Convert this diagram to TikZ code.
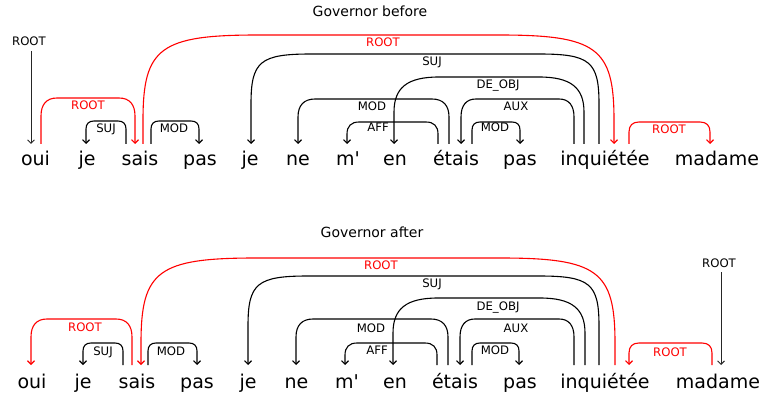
\documentclass[tikz,border=0pt]{standalone}
\usepackage{fontspec}
\setmainfont{DejaVu Sans}
\usetikzlibrary{arrows.meta}
\tikzset{
  word/.style={anchor=base, inner sep=0pt, font=\fontsize{19}{19}\selectfont},
  lab/.style={anchor=base, inner sep=0pt, font=\fontsize{11.7}{12}\selectfont},
  rlab/.style={lab, text=red},
  ttl/.style={anchor=base, inner sep=0pt, font=\fontsize{14}{14}\selectfont},
  dep/.style={line width=1.1pt, -{Straight Barb[length=3.5pt,width=7pt]}},
  rdep/.style={dep, draw=red},
  rootdep/.style={line width=0.9pt, draw=black!85, -{Straight Barb[length=3.5pt,width=7pt]}},
}
% #1 name, #2 x start, #3 x end, #4 y top, #5 y bottom, #6 dx, #7 dy, #8 control factor, #9 style
\newcommand{\deparc}[9]{%
  \coordinate (#1s) at (#2,#5);
  \coordinate (#1e) at (#3,#5);
  \pgfmathsetmacro\sg{(#3>#2)?1:-1}
  \draw[#9] (#1s) -- (#2,{#4+#7})
    .. controls (#2,{#4+#8*#7}) and ({#2+\sg*#8*#6},#4) .. ({#2+\sg*#6},#4)
    -- ({#3-\sg*#6},#4)
    .. controls ({#3-\sg*#8*#6},#4) and (#3,{#4+#8*#7}) .. (#3,{#4+#7})
    -- (#1e);
}
\begin{document}
\begin{tikzpicture}[x=1pt,y=-1pt]
\useasboundingbox (0,0) rectangle (762,398);

% ---------------- top panel ----------------
\node[ttl] (t1) at (370,16.5) {Governor before};
\node[word] (a1) at (35.5,166) {oui};
\node[word] (a2) at (87,166) {je};
\node[word] (a3) at (140,166) {sais};
\node[word] (a4) at (200,166) {pas};
\node[word] (a5) at (250,166) {je};
\node[word] (a6) at (298,166) {ne};
\node[word] (a7) at (348,166) {m\textquotesingle};
\node[word] (a8) at (395,166) {en};
\node[word] (a9) at (456,166) {étais};
\node[word] (a10) at (520,166) {pas};
\node[word] (a11) at (605,166) {inquiétée};
\node[word] (a12) at (717,166) {madame};

\node[lab] (ar0) at (29,45.3) {ROOT};
\coordinate (rt1s) at (31,51);
\coordinate (rt1e) at (31,144);
\draw[rootdep] (rt1s) -- (rt1e);

\deparc{p1}{41}{135}{98}{144}{16}{18}{0.35}{rdep}
\deparc{p2}{126}{86}{121}{144}{8}{8}{0.35}{dep}
\deparc{p3}{151}{199}{121}{144}{8}{8}{0.35}{dep}
\deparc{p4}{143}{614}{35}{144}{115}{85}{0.15}{rdep}
\deparc{p5}{599}{251}{54}{144}{60}{50}{0.15}{dep}
\deparc{p6}{584}{394}{77}{144}{45}{35}{0.3}{dep}
\deparc{p7}{449}{298}{99}{144}{17}{18}{0.35}{dep}
\deparc{p8}{438}{347}{122}{144}{12}{12}{0.35}{dep}
\deparc{p9}{574}{461}{99}{144}{15}{18}{0.35}{dep}
\deparc{p10}{472}{520}{122}{144}{8}{8}{0.35}{dep}
\deparc{p11}{629}{710}{122}{144}{10}{10}{0.35}{rdep}

\node[rlab] (la1) at (88,110) {ROOT};
\node[lab] (la2) at (106,133) {SUJ};
\node[lab] (la3) at (174,133) {MOD};
\node[rlab] (la4) at (383,47) {ROOT};
\node[lab] (la5) at (432,66) {SUJ};
\node[lab] (la6) at (498,89) {DE\_OBJ};
\node[lab] (la7) at (372,111) {MOD};
\node[lab] (la8) at (378,132) {AFF};
\node[lab] (la9) at (516,111) {AUX};
\node[lab] (la10) at (495,132) {MOD};
\node[rlab] (la11) at (669,134) {ROOT};

% ---------------- bottom panel ----------------
\node[ttl] (t2) at (372,237) {Governor after};
\node[word] (b1) at (32,388) {oui};
\node[word] (b2) at (83,388) {je};
\node[word] (b3) at (137,388) {sais};
\node[word] (b4) at (197,388) {pas};
\node[word] (b5) at (248,388) {je};
\node[word] (b6) at (296.5,388) {ne};
\node[word] (b7) at (347,388) {m\textquotesingle};
\node[word] (b8) at (395,388) {en};
\node[word] (b9) at (455,388) {étais};
\node[word] (b10) at (520,388) {pas};
\node[word] (b11) at (605,388) {inquiétée};
\node[word] (b12) at (718,388) {madame};

\node[lab] (br0) at (719,267) {ROOT};
\coordinate (rt2s) at (721,272);
\coordinate (rt2e) at (721,365);
\draw[rootdep] (rt2s) -- (rt2e);

\deparc{q1}{132}{31}{319}{365}{16}{18}{0.35}{rdep}
\deparc{q2}{123}{83}{343}{365}{8}{8}{0.35}{dep}
\deparc{q3}{148}{197}{343}{365}{8}{8}{0.35}{dep}
\deparc{q4}{615}{141}{258}{365}{115}{85}{0.15}{rdep}
\deparc{q5}{599}{248}{276}{365}{60}{50}{0.15}{dep}
\deparc{q6}{585}{393}{298}{365}{45}{35}{0.3}{dep}
\deparc{q7}{448}{296}{319}{365}{17}{18}{0.35}{dep}
\deparc{q8}{437}{345}{343}{365}{12}{12}{0.35}{dep}
\deparc{q9}{574}{460}{319}{365}{15}{18}{0.35}{dep}
\deparc{q10}{472}{519}{343}{365}{8}{8}{0.35}{dep}
\deparc{q11}{712}{629}{343}{365}{10}{10}{0.35}{rdep}

\node[rlab] (lb1) at (85,331) {ROOT};
\node[lab] (lb2) at (103,355) {SUJ};
\node[lab] (lb3) at (171,355) {MOD};
\node[rlab] (lb4) at (381,269) {ROOT};
\node[lab] (lb5) at (432,287) {SUJ};
\node[lab] (lb6) at (498,310) {DE\_OBJ};
\node[lab] (lb7) at (371,332) {MOD};
\node[lab] (lb8) at (377,354) {AFF};
\node[lab] (lb9) at (516,332) {AUX};
\node[lab] (lb10) at (495,354) {MOD};
\node[rlab] (lb11) at (670,356) {ROOT};
\end{tikzpicture}
\end{document}
